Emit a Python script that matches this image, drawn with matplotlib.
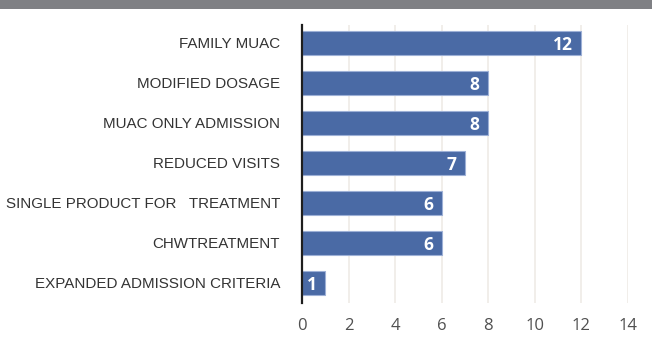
import matplotlib
matplotlib.use("Agg")
import matplotlib.pyplot as plt
from matplotlib.patches import Rectangle

categories = [
    "FAMILY MUAC",
    "MODIFIED DOSAGE",
    "MUAC ONLY ADMISSION",
    "REDUCED VISITS",
    "SINGLE PRODUCT FOR   TREATMENT",
    "CHWTREATMENT",
    "EXPANDED ADMISSION CRITERIA",
]
counts = [12, 8, 8, 7, 6, 6, 1]
xticks = [0, 2, 4, 6, 8, 10, 12, 14]

W, H = 652, 345
fig = plt.figure(figsize=(W / 100, H / 100), dpi=100)
fig.patch.set_facecolor("white")

# grey header band across the top
fig.patches.append(Rectangle((0, 1 - 8.5 / H), 1, 8.5 / H, transform=fig.transFigure,
                             facecolor="#7f8084", edgecolor="none", zorder=0))

ax = fig.add_axes([302 / W, 1 - 303 / H, (627.7 - 302) / W, (303 - 25) / H])

ypos = list(range(len(categories)))
bars = ax.barh(ypos, counts, height=0.58, color="#4a6aa5",
               edgecolor="#9db0d6", linewidth=0.8, zorder=3)

for b, v in zip(bars, counts):
    ax.text(b.get_width() - 0.36, b.get_y() + b.get_height() / 2, str(v),
            ha="right", va="center_baseline", color="white",
            fontsize=12.5, fontweight="bold", family="Open Sans", zorder=4)

ax.set_xlim(0, 14)
ax.set_ylim(len(categories) - 0.5, -0.45)
ax.set_yticks(ypos)
ax.set_yticklabels(categories, family="Liberation Sans", fontsize=10.9, color="#333333")
ax.set_xticks(xticks)
ax.set_xticklabels([str(t) for t in xticks], family="Open Sans", fontsize=12, color="#505050")
ax.tick_params(axis="y", length=0, pad=15.8)
ax.tick_params(axis="x", length=0, pad=11)

ax.grid(axis="x", color="#efebe6", linewidth=1.2, zorder=0)
ax.set_axisbelow(True)
for s in ["top", "right", "bottom"]:
    ax.spines[s].set_visible(False)
ax.spines["left"].set_color("#1e1e1e")
ax.spines["left"].set_linewidth(1.6)
ax.spines["left"].set_zorder(5)

fig.savefig("out.png", dpi=100)
